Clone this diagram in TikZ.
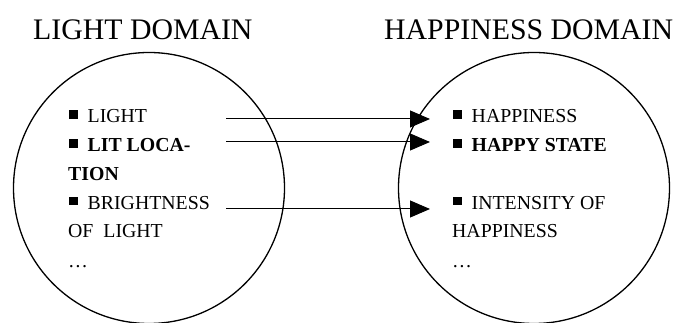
\documentclass[tikz,border=0pt]{standalone}
\usepackage{fontspec}
\setmainfont{Liberation Serif}
\usetikzlibrary{arrows.meta}
\newcommand\sqbullet{\rule[4pt]{8.5pt}{8.5pt}\hspace{10pt}}
\begin{document}
\begin{tikzpicture}[x=1pt,y=-1pt,
  domaincircle/.style={draw,line width=1.3pt,circle,minimum size=271pt,inner sep=0pt},
  titletext/.style={inner sep=0pt,anchor=base west,font=\fontsize{29.8}{36}\selectfont},
  itemtext/.style={inner sep=0pt,anchor=base west,font=\fontsize{19.8}{24}\selectfont},
  mapping/.style={line width=1pt,-{Triangle[length=20pt,width=17pt]}}]
\useasboundingbox (0,0) rectangle (675,323);
% domains
\node[domaincircle] (L) at (149,188) {};
\node[domaincircle] (R) at (534,188) {};
% titles
\node[titletext] (tL) at (33,40) {LIGHT DOMAIN};
\node[titletext] (tR) at (384,40) {HAPPINESS DOMAIN};
% left items
\node[itemtext] (l1) at (69,123) {\sqbullet LIGHT};
\node[itemtext] (l2) at (69,152) {\sqbullet\textbf{LIT LOCA-}};
\node[itemtext] (l3) at (68,180.5) {\textbf{TION}};
\node[itemtext] (l4) at (69,209.5) {\sqbullet BRIGHTNESS};
\node[itemtext] (l5) at (68,238) {OF\ \ LIGHT};
\node[itemtext] (l6) at (68,268) {\ldots};
% right items
\node[itemtext] (r1) at (453,123) {\sqbullet HAPPINESS};
\node[itemtext] (r2) at (453,152) {\sqbullet\textbf{HAPPY STATE}};
\node[itemtext] (r3) at (453,209.5) {\sqbullet INTENSITY OF};
\node[itemtext] (r4) at (452,238) {HAPPINESS};
\node[itemtext] (r5) at (452,268) {\ldots};
% mapping arrows
\coordinate (s1) at (226,119);
\coordinate (e1) at (430,119);
\coordinate (s2) at (226,142);
\coordinate (e2) at (430,142);
\coordinate (s3) at (226,209);
\coordinate (e3) at (430,209);
\draw[mapping] (s1) -- (e1);
\draw[mapping] (s2) -- (e2);
\draw[mapping] (s3) -- (e3);
\end{tikzpicture}
\end{document}
